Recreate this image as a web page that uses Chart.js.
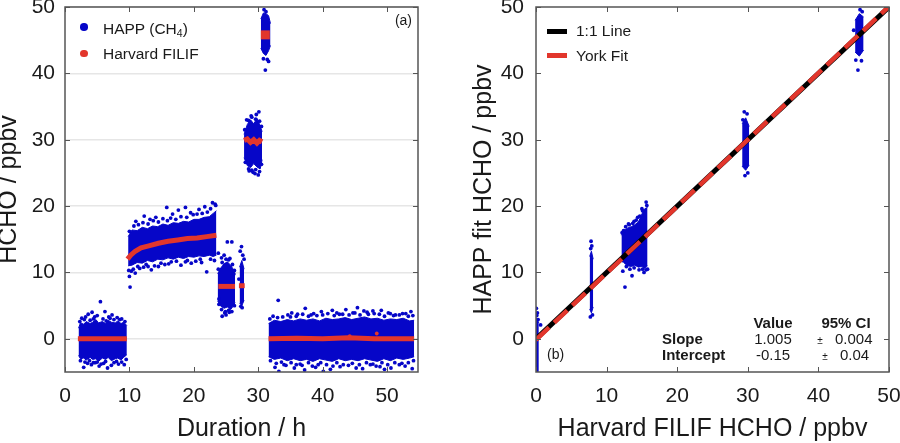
<!DOCTYPE html>
<html>
<head>
<meta charset="utf-8">
<script src="https://cdn.jsdelivr.net/npm/chart.js@4.4.1/dist/chart.umd.min.js"></script>
<style>
  body { margin: 0; background: #fff; }
  #wrap { position: relative; width: 900px; height: 443px; overflow: hidden; }
  canvas { position: absolute; top: 0; }
</style>
</head>
<body>
<div id="wrap">
  <canvas id="left"  width="450" height="443" style="left:0"></canvas>
  <canvas id="right" width="450" height="443" style="left:450px"></canvas>
</div>
<script>
/* ── Axis ticks ── */
const xTicksL = [0, 10, 20, 30, 40, 50];
const xTicksR = [0, 10, 20, 30, 40, 50];
const yTicks  = [0, 10, 20, 30, 40, 50];

/* ── (a) HAPP clouds vs duration: dense core envelopes + scattered points ── */
const c1X  = [2.1, 2.4, 2.9, 3.3, 3.9, 4.3, 4.8, 5.2, 5.8, 6.3, 6.7, 7.2, 7.8, 8.2, 8.7, 9.1, 9.6];
const c1Hi = [1.6, 2.4, 2.2, 2.6, 2.3, 2.5, 2.9, 2.4, 2.6, 2.3, 2.8, 2.5, 2.4, 2.7, 2.3, 2.5, 2.0];
const c1Lo = [-2.5, -3.0, -2.9, -3.2, -2.8, -3.1, -3.0, -3.4, -2.9, -3.1, -2.8, -3.3, -3.0, -2.9, -3.2, -2.8, -2.4];
const c1Dots = [[5.5,5.6],[4.2,4.0],[6.2,4.1],[7.3,3.6],[6.8,3.3],[3.6,3.7],[4.6,3.3],[8.1,3.2],[2.6,3.1],[5.0,3.5],
  [8.8,3.0],[3.2,3.3],[2.3,2.6],[3.0,2.9],[3.9,2.8],[4.4,3.0],[5.9,3.0],[6.4,2.7],[7.0,3.1],[7.6,2.9],[8.5,2.9],
  [9.3,2.6],[2.9,-4.3],[4.1,-3.9],[5.3,-4.1],[6.0,-3.7],[7.2,-4.0],[8.3,-3.8],[3.5,-3.7],[6.6,-4.4],[9.2,-3.9],
  [4.7,-3.6],[2.4,-3.3],[3.1,-3.5],[3.8,-3.3],[4.4,-3.6],[5.0,-3.5],[5.6,-3.8],[6.3,-3.4],[7.6,-3.6],[8.0,-3.4],
  [8.8,-3.5],[9.5,-3.1]];

const c2X  = [9.8, 10.4, 11.2, 12.0, 12.8, 13.6, 14.4, 15.2, 16.0, 16.8, 17.6, 18.4, 19.2, 20.0, 20.8, 21.6, 22.4, 23.0, 23.5];
const c2Hi = [15.4, 16.4, 16.3, 16.8, 16.6, 17.0, 16.9, 17.3, 17.1, 17.5, 17.4, 17.7, 17.6, 18.0, 18.0, 18.3, 18.4, 18.9, 19.3];
const c2Lo = [11.0, 11.1, 11.5, 11.4, 11.8, 11.6, 12.0, 11.9, 12.2, 12.0, 12.3, 12.1, 12.4, 12.3, 12.5, 12.4, 12.6, 12.4, 12.6];
const c2Dots = [[12.3,18.5],[15.8,19.8],[17.6,19.4],[18.7,19.8],[19.5,19.0],[20.8,19.5],[14.1,18.3],[22.9,20.5],[23.3,20.3],
  [11.0,17.7],[16.7,18.8],[21.7,19.9],[13.2,18.0],[10.0,16.2],[10.7,17.0],[11.4,17.2],[12.1,17.5],[12.9,17.3],
  [13.7,17.8],[14.5,17.6],[15.2,18.1],[15.9,17.8],[16.4,18.2],[17.2,18.0],[18.0,18.4],[18.9,18.3],[19.9,18.7],
  [20.5,18.8],[21.3,18.9],[22.1,19.1],[22.6,19.6],[23.4,20.1],[10.1,7.8],[10.0,9.4],[10.3,10.2],[10.9,9.9],
  [11.6,10.6],[12.9,10.9],[14.5,10.9],[16.1,11.3],[18.0,11.1],[19.6,11.4],[22.0,10.1],[21.2,11.5],[13.4,10.4],
  [9.9,10.3],[10.6,10.5],[11.3,10.9],[12.2,10.8],[12.6,11.2],[13.9,11.0],[14.9,11.4],[15.5,11.2],[16.5,11.6],
  [17.3,11.7],[18.7,11.6],[19.0,11.8],[20.3,11.7],[21.0,12.0],[22.6,12.0],[23.2,11.8]];

const c3X  = [23.7, 24.2, 24.7, 25.2, 25.7, 26.1, 26.4];
const c3Hi = [9.8, 10.7, 11.3, 11.6, 11.1, 10.5, 9.6];
const c3Lo = [5.7, 4.9, 4.6, 4.8, 4.4, 4.9, 5.5];
const c3Dots = [[25.2,14.6],[25.9,14.6],[24.7,12.6],[23.8,12.9],[25.6,12.1],[24.3,12.2],[24.4,3.4],[25.0,3.6],
  [25.5,4.0],[24.8,3.9],[26.2,9.8],[23.9,5.2],[23.8,10.5],[24.4,11.5],[25.0,12.0],[25.4,11.9],[26.0,11.2],
  [26.3,10.3],[23.9,6.0],[24.3,4.4],[24.9,4.1],[25.4,4.3],[25.9,4.1],[26.3,5.0]];

const c3bX  = [27.1, 27.45, 27.8];
const c3bHi = [10.8, 11.8, 10.5];
const c3bLo = [5.4, 5.0, 5.8];
const c3bDots = [[27.4,13.9],[27.2,13.2],[27.6,12.6],[27.3,4.9],[27.5,4.7],[27.8,12.0],[27.0,9.0]];

const c4X  = [27.8, 28.3, 28.8, 29.3, 29.8, 30.3, 30.6];
const c4Hi = [30.8, 32.3, 33.0, 32.4, 33.2, 32.1, 31.2];
const c4Lo = [27.3, 26.1, 25.8, 26.4, 25.9, 25.6, 27.0];
const c4Dots = [[30.1,34.2],[29.7,33.8],[28.9,33.6],[28.2,33.0],[29.5,24.9],[30.0,24.7],[28.6,25.3],[29.2,25.1],
  [27.9,31.5],[28.5,32.9],[29.0,33.4],[29.6,33.1],[30.2,32.8],[30.5,32.0],[28.0,26.6],[28.5,25.6],[29.0,25.4],
  [29.6,25.5],[30.2,25.2],[30.5,26.3]];

const c5X  = [30.4, 30.8, 31.2, 31.6, 31.9];
const c5Hi = [48.2, 49.1, 49.0, 48.7, 47.5];
const c5Lo = [43.8, 43.0, 42.7, 43.4, 44.2];
const c5Dots = [[30.9,49.6],[31.2,49.3],[30.8,42.2],[31.4,42.1],[31.1,40.5],[31.6,41.8]];

const c6X  = [31.6, 32.5, 33.5, 34.5, 35.5, 36.5, 37.5, 38.5, 39.5, 40.5, 41.5, 42.5, 43.5, 44.5, 45.5, 46.5, 47.5, 48.5, 49.5, 50.5, 51.5, 52.5, 53.5, 54.2];
const c6Hi = [2.3, 2.8, 2.6, 2.9, 2.7, 3.0, 2.8, 3.0, 2.7, 3.1, 2.9, 3.0, 3.2, 2.9, 3.1, 3.3, 3.0, 3.1, 2.8, 3.0, 2.9, 3.1, 2.7, 2.8];
const c6Lo = [-2.7, -3.1, -2.9, -3.3, -3.0, -3.3, -3.1, -3.4, -3.0, -3.2, -3.4, -3.0, -3.3, -3.1, -3.3, -3.0, -3.2, -3.4, -3.0, -3.3, -2.9, -3.1, -2.9, -2.7];
const c6Dots = [[33.1,5.8],[35.2,3.9],[36.1,3.7],[37.3,4.6],[38.6,3.8],[39.8,4.1],[41.5,4.3],[42.6,3.7],[43.6,4.4],
  [44.7,3.9],[45.4,4.7],[46.9,4.0],[47.8,4.2],[49.1,4.3],[50.2,3.9],[51.3,3.6],[52.4,3.8],[53.7,4.1],
  [31.8,3.0],[32.3,3.4],[33.0,3.2],[33.8,3.3],[34.6,3.6],[35.0,3.3],[35.9,3.4],[36.9,3.7],[37.8,3.4],[38.2,3.6],
  [39.1,3.5],[40.0,3.6],[40.8,3.8],[41.8,3.5],[42.2,3.9],[43.1,3.7],[44.1,3.6],[45.0,3.9],[45.8,3.6],[46.4,4.2],
  [47.1,3.7],[48.0,3.8],[48.8,3.7],[49.6,3.4],[50.5,3.8],[51.0,3.5],[51.9,3.6],[52.9,3.8],[53.3,3.4],[54.0,3.5],
  [32.6,-4.3],[33.2,-4.9],[34.0,-3.9],[35.6,-4.4],[36.8,-4.0],[37.2,-4.7],[38.4,-4.1],[39.3,-3.9],[40.1,-4.9],
  [41.2,-4.6],[42.7,-4.2],[44.0,-4.0],[45.2,-4.4],[46.2,-4.5],[47.4,-3.9],[48.3,-4.1],[49.6,-4.6],[50.6,-4.4],
  [51.9,-3.9],[52.8,-4.1],[53.9,-4.5],[31.9,-3.3],[32.8,-3.7],[33.6,-3.5],[34.3,-4.0],[35.1,-3.6],[35.9,-3.9],
  [36.5,-3.8],[37.8,-3.6],[38.9,-4.3],[39.7,-3.6],[40.6,-3.9],[41.6,-4.1],[42.2,-3.6],[43.2,-3.9],[44.6,-3.7],
  [45.7,-3.9],[46.8,-3.6],[47.8,-3.8],[48.9,-4.2],[49.2,-3.6],[50.1,-3.9],[51.2,-3.6],[52.3,-3.7],[53.3,-3.6],
  [54.1,-3.3]];

/* ── (a) Harvard FILIF segments ── */
const fil1  = [[2.0,0],[9.6,0]];
const fil2  = [[9.7,12.0],[10.2,12.6],[10.9,13.2],[11.8,13.7],[13.0,14.0],[14.5,14.4],[16.0,14.7],[17.5,14.9],
  [19.0,15.1],[20.5,15.2],[22.0,15.4],[23.5,15.6]];
const fil3  = [[23.8,7.9],[26.4,7.9]];
const fil3b = [[27.0,8.0],[27.9,8.0]];
const fil4  = [[27.8,29.9],[28.3,30.1],[28.8,29.6],[29.3,30.0],[29.8,29.5],[30.2,29.9],[30.6,29.7]];
const fil5  = [[30.4,45.8],[31.8,45.8]];
const fil6  = [[31.6,0],[36.0,0.1],[40.0,0],[44.0,0.15],[48.0,0],[54.2,0]];
const filDots = [[48.4,0.8],[44.2,0.4]];

/* ── (b) HAPP fit vs FILIF columns ── */
const rAX = [-0.3, 0.05, 0.4],  rAHi = [2.6, 3.1, 2.4],    rALo = [-6, -6, -6];
const rADots = [[0.05,4.6],[0.2,3.9],[0.65,2.1],[0.1,3.5],[0.3,2.9]];
const rBX = [7.6, 7.85, 8.1],   rBHi = [12.4, 13.2, 12.0], rBLo = [4.5, 3.9, 4.8];
const rBDots = [[7.8,14.7],[7.9,14.0],[7.7,3.3],[8.0,3.6],[7.75,13.6]];
const rCX  = [12.1, 12.5, 13.0, 13.5, 14.0, 14.5, 15.0, 15.4, 15.8];
const rCHi = [15.6, 16.4, 16.7, 16.9, 17.2, 17.6, 18.8, 19.6, 19.8];
const rCLo = [12.2, 11.4, 11.0, 10.9, 11.1, 10.8, 10.9, 10.6, 11.0];
const rCDots = [[12.6,7.8],[13.6,9.5],[12.3,10.2],[15.3,10.0],[15.6,20.6],[14.4,18.3],[13.9,17.7],[12.4,16.3],
  [15.8,10.5],[13.2,17.2],[15.0,19.6],[12.2,16.0],[12.7,16.9],[13.1,17.3],[13.7,17.4],[14.2,17.9],[14.7,18.5],
  [15.1,19.3],[15.7,20.1],[12.3,11.8],[12.8,10.9],[13.3,10.5],[13.9,10.7],[14.6,10.4],[15.1,10.5],[15.6,10.4]];
const rDX = [29.2, 29.7, 30.2], rDHi = [32.4, 33.3, 32.0], rDLo = [26.0, 25.4, 26.2];
const rDDots = [[29.5,34.2],[29.9,33.9],[29.6,24.6],[30.0,25.0],[29.3,33.0]];
const rEX = [45.2, 45.8, 46.4], rEHi = [48.0, 49.0, 48.5], rELo = [43.2, 42.6, 43.5];
const rEDots = [[45.9,49.6],[46.2,49.3],[45.6,40.5],[45.3,42.0],[46.1,41.9],[45.0,46.5]];

const oneToOne = [[0,0],[50,50]];
const yorkFit  = [[0,-0.15],[50,50.1]];

/* ── Styles ── */
const BLUE = "#0606c8";
const RED  = "#e2362c";
const FONT = '"Liberation Sans", Arial, Helvetica, sans-serif';
const INK  = "#1a1a1a";

/* ── Dataset helpers ── */
function pts(arr) {
  return arr.map(p => ({ x: p[0], y: p[1] }));
}

function band(xs, hi, lo) {
  return [
    { data: xs.map((x, i) => ({ x, y: hi[i] })), fill: "+1", backgroundColor: BLUE,
      borderColor: BLUE, borderWidth: 1, pointRadius: 0 },
    { data: xs.map((x, i) => ({ x, y: lo[i] })), fill: false,
      borderColor: BLUE, borderWidth: 1, pointRadius: 0 },
  ];
}

function dots(arr, color) {
  return { data: pts(arr), showLine: false, pointRadius: 1.9, pointBorderWidth: 0,
           pointBackgroundColor: color || BLUE };
}

function line(arr, color, width, dash) {
  return { data: pts(arr), showLine: true, fill: false, borderColor: color, borderWidth: width,
           borderDash: dash || [], pointRadius: 0, borderCapStyle: "butt" };
}

/* ── Inner tick marks and frame ── */
const frame = {
  id: "frame",
  afterDatasetsDraw(chart) {
    const { ctx, chartArea: a, scales } = chart;
    ctx.save();
    ctx.strokeStyle = "#555";
    ctx.lineWidth = 1;
    ctx.beginPath();
    scales.x.ticks.forEach(t => {
      const px = Math.round(scales.x.getPixelForValue(t.value)) + 0.5;
      ctx.moveTo(px, a.bottom); ctx.lineTo(px, a.bottom - 5);
      ctx.moveTo(px, a.top);    ctx.lineTo(px, a.top + 5);
    });
    scales.y.ticks.forEach(t => {
      const py = Math.round(scales.y.getPixelForValue(t.value)) + 0.5;
      ctx.moveTo(a.left, py);  ctx.lineTo(a.left + 5, py);
      ctx.moveTo(a.right, py); ctx.lineTo(a.right - 5, py);
    });
    ctx.stroke();
    ctx.lineWidth = 1.5;
    ctx.strokeRect(a.left, a.top, a.right - a.left, a.bottom - a.top);
    ctx.restore();
  },
};

function axes(o) {
  return {
    x: {
      type: "linear", min: 0, max: o.xMax,
      border: { display: false },
      grid: { display: false, drawTicks: false },
      afterBuildTicks: s => { s.ticks = o.xTicks.map(v => ({ value: v })); },
      afterFit: s => { s.height = 71; s.paddingLeft = 0; s.paddingRight = 0; },
      ticks: { color: INK, font: { family: FONT, size: 21 }, padding: 12, maxRotation: 0 },
      title: { display: true, text: o.xTitle, color: INK,
               font: { family: FONT, size: 25, lineHeight: 0.7 }, padding: { top: 0, bottom: 5 } },
    },
    y: {
      type: "linear", min: -5, max: 50,
      border: { display: false },
      grid: { display: o.grid, color: "#e6e6e6", lineWidth: 1.5, drawTicks: false },
      afterBuildTicks: s => { s.ticks = yTicks.map(v => ({ value: v })); },
      afterFit: s => { s.width = o.yWidth; s.paddingTop = 0; s.paddingBottom = 0; },
      ticks: { color: INK, font: { family: FONT, size: 21 }, padding: o.yPad },
      title: { display: true, text: o.yTitle, color: INK,
               font: { family: FONT, size: 25, lineHeight: 0.7 }, padding: { top: o.yTitlePad, bottom: 0 } },
    },
  };
}

function baseOptions(padRight, scales) {
  return {
    responsive: false,
    animation: false,
    devicePixelRatio: 1,
    events: [],
    layout: { padding: { top: 7, right: padRight, left: 0, bottom: 0 } },
    plugins: { legend: { display: false }, tooltip: { enabled: false } },
    scales,
  };
}

/* ── Left panel: time series ── */
new Chart(document.getElementById("left"), {
  type: "line",
  data: {
    datasets: [
      line(fil1, RED, 5), line(fil2, RED, 5), line(fil3, RED, 5), line(fil3b, RED, 5),
      line(fil4, RED, 5), line(fil5, RED, 9), line(fil6, RED, 5), dots(filDots, RED),
      dots(c1Dots), dots(c2Dots), dots(c3Dots), dots(c3bDots), dots(c4Dots), dots(c5Dots), dots(c6Dots),
      ...band(c1X, c1Hi, c1Lo), ...band(c2X, c2Hi, c2Lo), ...band(c3X, c3Hi, c3Lo),
      ...band(c3bX, c3bHi, c3bLo), ...band(c4X, c4Hi, c4Lo), ...band(c5X, c5Hi, c5Lo),
      ...band(c6X, c6Hi, c6Lo),
    ],
  },
  options: baseOptions(32, axes({
    xMax: 54.8, xTicks: xTicksL, xTitle: "Duration / h",
    yTitle: "HCHO / ppbv", yWidth: 65, yPad: 10, yTitlePad: 0, grid: true,
  })),
  plugins: [frame],
});

/* ── Right panel: correlation ── */
new Chart(document.getElementById("right"), {
  type: "line",
  data: {
    datasets: [
      line(yorkFit, RED, 4.5, [18, 7]),
      line(oneToOne, "#000", 5),
      dots(rADots), dots(rBDots), dots(rCDots), dots(rDDots), dots(rEDots),
      ...band(rAX, rAHi, rALo), ...band(rBX, rBHi, rBLo), ...band(rCX, rCHi, rCLo),
      ...band(rDX, rDHi, rDLo), ...band(rEX, rEHi, rELo),
    ],
  },
  options: baseOptions(11, axes({
    xMax: 50, xTicks: xTicksR, xTitle: "Harvard FILIF HCHO / ppbv",
    yTitle: "HAPP fit HCHO / ppbv", yWidth: 86, yPad: 12, yTitlePad: 25, grid: false,
  })),
  plugins: [frame],
});

/* ── Legends and annotations (page coordinates, y = text baseline) ── */
const wrap = document.getElementById("wrap");

function text(html, x, base, size, align, bold) {
  const el = document.createElement("div");
  el.innerHTML = html;
  const shift = align === "center" ? "-50%" : align === "right" ? "-100%" : "0";
  el.style.cssText =
    `position:absolute;left:${x}px;top:${base - 0.3465 * size}px;` +
    `font:${bold ? "bold " : ""}${size}px ${FONT};line-height:0;white-space:nowrap;` +
    `color:${INK};transform:translateX(${shift});`;
  wrap.appendChild(el);
}

function swatch(x, y, w, h, color, round) {
  const el = document.createElement("div");
  el.style.cssText =
    `position:absolute;left:${x}px;top:${y}px;width:${w}px;height:${h}px;` +
    `background:${color};border-radius:${round ? "50%" : "0"};`;
  wrap.appendChild(el);
}

swatch(80, 23.3, 7.5, 7.5, BLUE, true);
text('HAPP (CH<span style="font-size:10.5px;vertical-align:-3px">4</span>)', 103, 34, 15.5);
swatch(80, 49.5, 7.5, 7.5, RED, true);
text("Harvard FILIF", 103, 59, 15.5);
text("(a)", 412, 25, 14, "right");

swatch(547, 29, 20, 4.5, "#000");
text("1:1 Line", 576, 36.5, 15.5);
swatch(547, 53, 20, 4.5, RED);
text("York Fit", 576, 61.5, 15.5);
text("(b)", 547, 359, 14);

text("Value", 773, 328, 15, "center", true);
text("95% CI", 846, 328, 15, "center", true);
text("Slope", 662, 344, 15, "left", true);
text("1.005", 773, 344, 15, "center");
text("±", 820, 344, 10, "center");
text("0.004", 835, 344, 15);
text("Intercept", 662, 360, 15, "left", true);
text("-0.15", 773, 360, 15, "center");
text("±", 825, 360, 10, "center");
text("0.04", 840, 360, 15);
</script>
</body>
</html>
